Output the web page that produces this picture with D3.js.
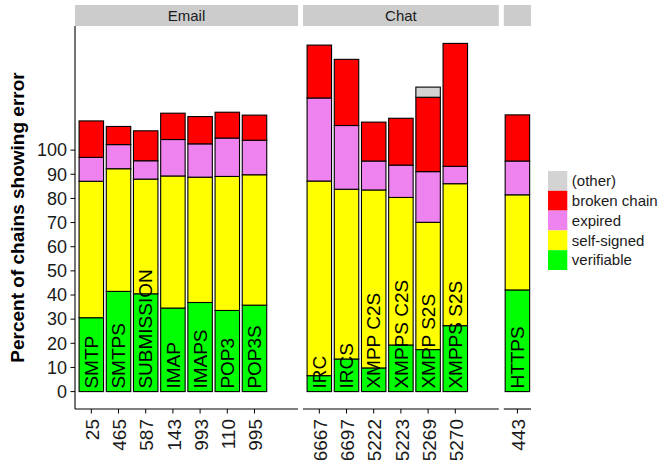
<!DOCTYPE html>
<html>
<head>
<meta charset="utf-8">
<script src="https://cdn.jsdelivr.net/npm/d3@7"></script>
<style>
  body { margin: 0; background: #fff; }
  text { font-family: "Liberation Sans", Arial, sans-serif; }
</style>
</head>
<body>
<script>
// data
const protocols = ["SMTP", "SMTPS", "SUBMISSION", "IMAP", "IMAPS", "POP3", "POP3S",
                   "IRC", "IRCS", "XMPP C2S", "XMPPS C2S", "XMPP S2S", "XMPPS S2S", "HTTPS"];
const ports = ["25", "465", "587", "143", "993", "110", "995",
               "6667", "6697", "5222", "5223", "5269", "5270", "443"];
const groupOf = ["Email", "Email", "Email", "Email", "Email", "Email", "Email",
                 "Chat", "Chat", "Chat", "Chat", "Chat", "Chat", "HTTPS"];
const groups = ["Email", "Chat", "HTTPS"];
const stripLabels = ["Email", "Chat", ""];

const verifiable  = [30.6, 41.5, 40.5, 34.6, 36.9, 33.6, 35.8, 6.6, 13.5, 9.8, 19.3, 17.4, 27.3, 42.1];
const selfSigned  = [56.5, 50.8, 47.5, 54.7, 51.9, 55.5, 54.0, 80.6, 70.3, 73.7, 61.1, 52.7, 58.8, 39.4];
const expired     = [9.9, 10.0, 7.6, 15.1, 13.8, 15.9, 14.3, 34.4, 26.4, 12.0, 13.4, 21.0, 7.2, 14.0];
const brokenChain = [15.1, 7.5, 12.4, 10.9, 11.3, 10.7, 10.4, 21.9, 27.4, 16.1, 19.4, 30.8, 50.9, 19.1];
const other       = [0, 0, 0, 0, 0, 0, 0, 0, 0, 0, 0, 4.2, 0, 0];

const categories = ["verifiable", "self-signed", "expired", "broken chain", "(other)"];
const colors = ["#00ff00", "#ffff00", "#ee82ee", "#ff0000", "#d3d3d3"];
const yTicks = d3.range(0, 101, 10);

const width = 659, height = 460;
const plotLeft = 75, plotRight = 531, plotTop = 26, plotBottom = 409;
const stripTop = 5, gap = 5;

const svg = d3.select("body").append("svg")
    .attr("width", width)
    .attr("height", height);

// build rows for the stack
const rows = protocols.map((p, i) => ({
  protocol: p, port: ports[i], group: groupOf[i],
  "verifiable": verifiable[i], "self-signed": selfSigned[i], "expired": expired[i],
  "broken chain": brokenChain[i], "(other)": other[i]
}));
const series = d3.stack().keys(categories)(rows);

const maxTotal = d3.max(rows, d => d3.sum(categories, k => d[k]));
const y = d3.scaleLinear()
    .domain([-0.05 * maxTotal, maxTotal * 1.05])
    .range([plotBottom, plotTop]);

const color = d3.scaleOrdinal().domain(categories).range(colors);

// panel widths follow the number of bars (free x space)
const units = groups.map(g => {
  const n = rows.filter(r => r.group === g).length;
  return n > 1 ? n + 1.2 : 1;
});
const perUnit = (plotRight - plotLeft - gap * (groups.length - 1)) / d3.sum(units);

let cursor = plotLeft;
const panels = groups.map((g, gi) => {
  const idx = rows.map((r, i) => i).filter(i => rows[i].group === g);
  const n = idx.length;
  const w = units[gi] * perUnit;
  const lo = n > 1 ? 0.4 : 0.5;
  const x = d3.scaleLinear().domain([lo, lo + units[gi]]).range([cursor, cursor + w]);
  const panel = { group: g, strip: stripLabels[gi], idx, x, x0: cursor, x1: cursor + w };
  cursor += w + gap;
  return panel;
});

panels.forEach((p, pi) => {
  // strip
  svg.append("rect")
      .attr("x", p.x0).attr("y", stripTop)
      .attr("width", p.x1 - p.x0).attr("height", plotTop - stripTop)
      .attr("fill", "#cccccc");
  svg.append("text")
      .attr("x", (p.x0 + p.x1) / 2).attr("y", (stripTop + plotTop) / 2)
      .attr("dy", "0.35em")
      .attr("text-anchor", "middle")
      .attr("font-size", 15)
      .attr("fill", "#1a1a1a")
      .text(p.strip);

  const g = svg.append("g");

  // stacked bars
  series.forEach(s => {
    g.selectAll(null)
      .data(p.idx.filter(i => s[i][1] - s[i][0] > 0))
      .enter().append("rect")
        .attr("x", i => p.x(p.idx.indexOf(i) + 1 - 0.45))
        .attr("width", p.x(1.45) - p.x(0.55))
        .attr("y", i => y(s[i][1]))
        .attr("height", i => y(s[i][0]) - y(s[i][1]))
        .attr("fill", color(s.key))
        .attr("stroke", "#000")
        .attr("stroke-width", 1.1);
  });

  // protocol names inside bars
  g.selectAll(null)
    .data(p.idx)
    .enter().append("text")
      .attr("transform", (i, j) => `translate(${p.x(j + 1)},${y(0) - 3}) rotate(-90)`)
      .attr("dy", "0.35em")
      .attr("font-size", 19)
      .attr("fill", "#000")
      .text(i => rows[i].protocol);

  // x axis
  const xAxis = g.append("g");
  xAxis.append("line")
      .attr("x1", p.x0).attr("x2", p.x1)
      .attr("y1", plotBottom).attr("y2", plotBottom)
      .attr("stroke", "#000").attr("stroke-width", 1.1);
  p.idx.forEach((i, j) => {
    const cx = p.x(j + 1);
    xAxis.append("line")
        .attr("x1", cx).attr("x2", cx)
        .attr("y1", plotBottom).attr("y2", plotBottom + 4.5)
        .attr("stroke", "#000").attr("stroke-width", 1);
    xAxis.append("text")
        .attr("transform", `translate(${cx + 1},${plotBottom + 10}) rotate(-90)`)
        .attr("dy", "0.35em")
        .attr("text-anchor", "end")
        .attr("font-size", 19)
        .attr("fill", "#1a1a1a")
        .text(rows[i].port);
  });
});

// y axis on the first panel only
const yAxis = svg.append("g");
yAxis.append("line")
    .attr("x1", plotLeft).attr("x2", plotLeft)
    .attr("y1", plotTop).attr("y2", plotBottom)
    .attr("stroke", "#000").attr("stroke-width", 1.1);
yTicks.forEach(t => {
  yAxis.append("line")
      .attr("x1", plotLeft - 4.5).attr("x2", plotLeft)
      .attr("y1", y(t)).attr("y2", y(t))
      .attr("stroke", "#000");
  yAxis.append("text")
      .attr("x", plotLeft - 8).attr("y", y(t))
      .attr("dy", "0.35em")
      .attr("text-anchor", "end")
      .attr("font-size", 18)
      .attr("fill", "#1a1a1a")
      .text(t);
});

svg.append("text")
    .attr("transform", `translate(24,${(plotTop + plotBottom) / 2}) rotate(-90)`)
    .attr("text-anchor", "middle")
    .attr("font-size", 19)
    .attr("font-weight", "bold")
    .text("Percent of chains showing error");

// legend, top entry is (other)
const legendX = 548, legendY = 171, keyW = 19.3, keyH = 19.8;
const legendItems = categories.slice().reverse();
const legend = svg.append("g");
legendItems.forEach((k, i) => {
  legend.append("rect")
      .attr("x", legendX).attr("y", legendY + i * keyH)
      .attr("width", keyW).attr("height", keyH)
      .attr("fill", color(k));
  legend.append("text")
      .attr("x", legendX + keyW + 4.5)
      .attr("y", legendY + i * keyH + keyH / 2)
      .attr("dy", "0.35em")
      .attr("font-size", 15)
      .attr("fill", "#1a1a1a")
      .text(k);
});
</script>
</body>
</html>
